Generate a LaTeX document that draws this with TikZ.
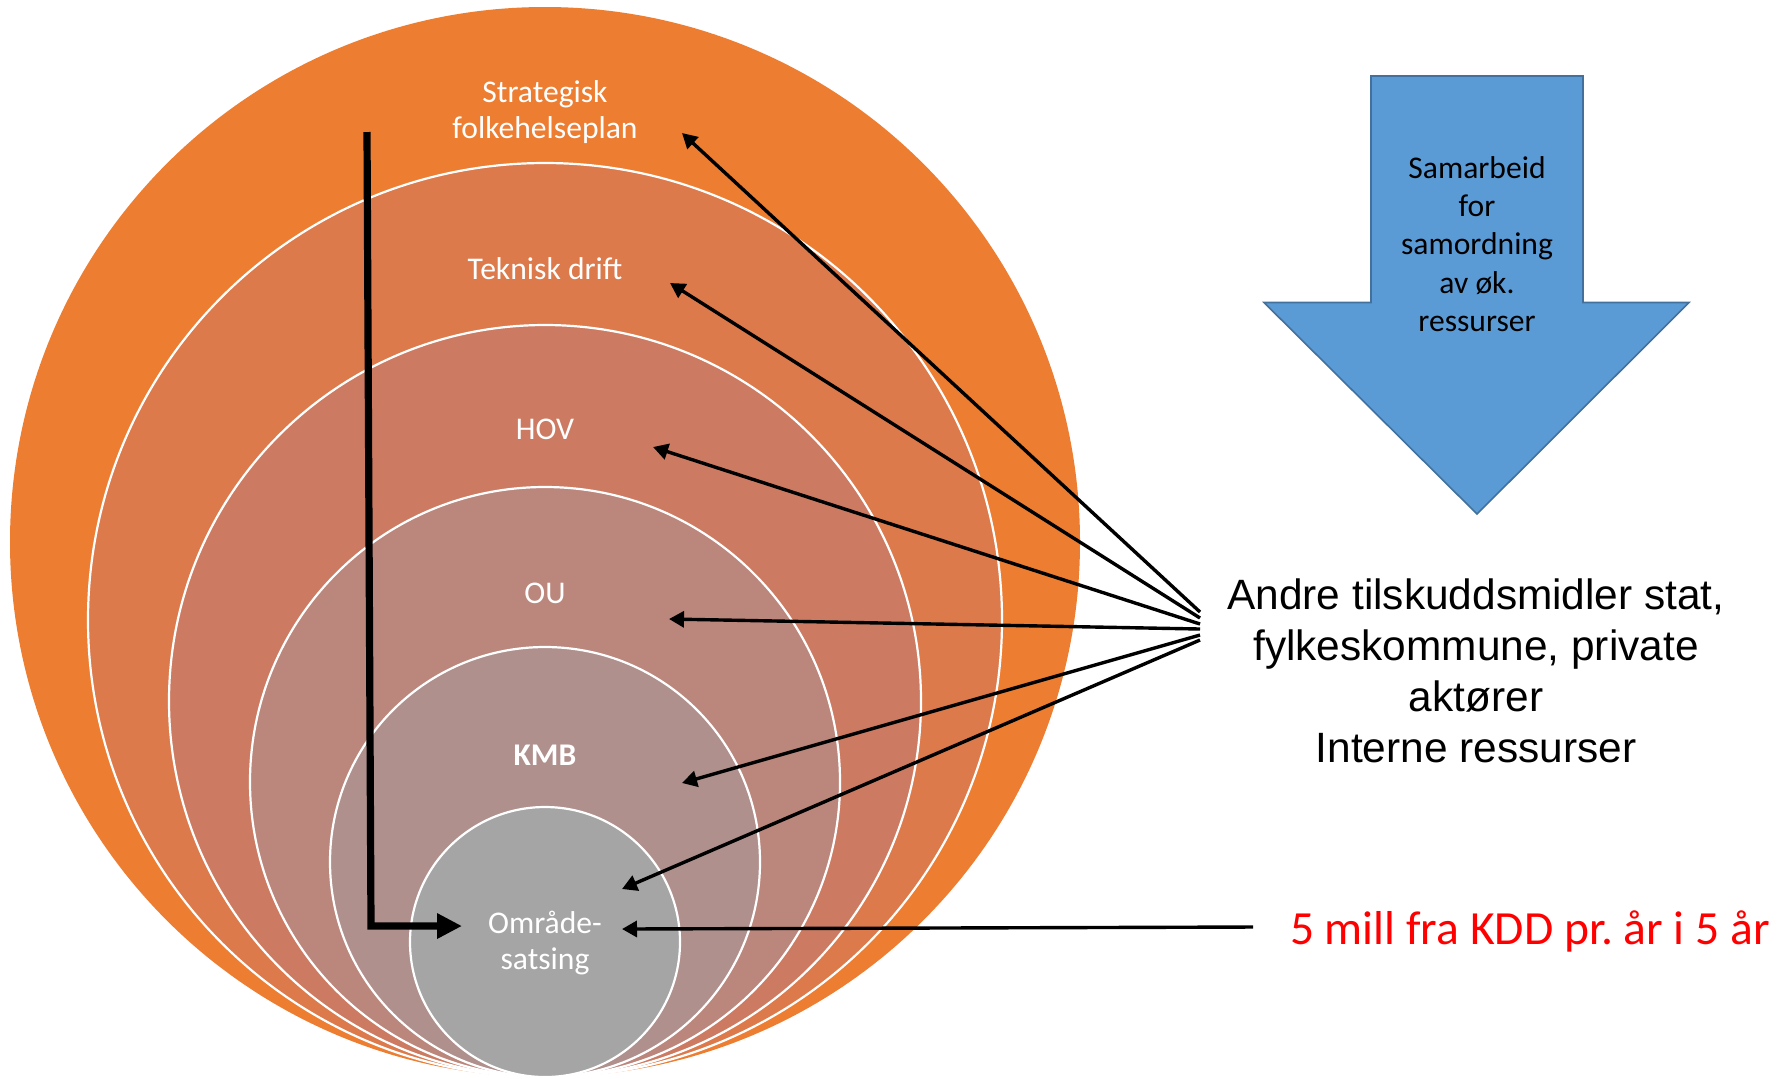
\documentclass[tikz,border=0pt]{standalone}
\usepackage{fontspec}
\setmainfont{Carlito}
\newfontfamily\arialfont{Liberation Sans}
\usetikzlibrary{arrows.meta}
\frenchspacing
\definecolor{c1}{HTML}{ED7D31}
\definecolor{c2}{HTML}{DC7A4C}
\definecolor{c3}{HTML}{CC7B62}
\definecolor{c4}{HTML}{BB867B}
\definecolor{c5}{HTML}{AF908D}
\definecolor{c6}{HTML}{A5A5A5}
\definecolor{bluefill}{HTML}{5B9BD5}
\definecolor{blueline}{HTML}{41719C}
\definecolor{redtxt}{HTML}{FF0000}
\begin{document}
\begin{tikzpicture}[x=0.5pt,y=-0.5pt,
  ring/.style={draw=white, line width=1.1pt},
  lbl/.style={text=white, font=\fontsize{15.8}{18}\selectfont, align=center, inner sep=0pt},
  thinarrow/.style={line width=1.7pt, -{Triangle[length=7.5pt,width=8pt]}},
  thickarrow/.style={line width=3.6pt, -{Triangle[length=12.5pt,width=12pt]}}
]
\useasboundingbox (0,0) rectangle (1791,1078);
% nested circles, tangent at the bottom
\fill[c1] (545,542) circle[radius=267.5pt];
\filldraw[fill=c2, ring] (545,620) circle[radius=228.5pt];
\filldraw[fill=c3, ring] (545,701) circle[radius=188pt];
\filldraw[fill=c4, ring] (545,782) circle[radius=147.5pt];
\filldraw[fill=c5, ring] (545,862) circle[radius=107.5pt];
\filldraw[fill=c6, ring] (545,942) circle[radius=67.5pt];

% labels
\node[lbl] (strat) at (545,112) {Strategisk\\folkehelseplan};
\node[lbl] (tek) at (545,269) {Teknisk drift};
\node[lbl] (hov) at (545,429) {HOV};
\node[lbl] (ou) at (545,593) {OU};
\node[lbl, font=\bfseries\fontsize{15.8}{18}\selectfont] (kmb) at (545,755) {KMB};
\node[lbl] (omr) at (545,943) {Område-\\satsing};

% blue arrow
\draw[fill=bluefill, draw=blueline, line width=0.8pt]
  (1371,76) -- (1583,76) -- (1583,302.5) -- (1689,302.5) -- (1477,514)
  -- (1264,302.5) -- (1371,302.5) -- cycle;
\node[align=center, inner sep=0pt, font=\fontsize{15.8}{19.2}\selectfont] (samarbeid) at (1477,244)
  {Samarbeid\\for\\samordning\\av øk.\\ressurser};

% right texts
\node[align=center, inner sep=0pt, font=\arialfont\fontsize{21.2}{25.5}\selectfont] (andre) at (1476,671)
  {Andre tilskuddsmidler stat,\\fylkeskommune, private\\aktører\\Interne ressurser};
\node[inner sep=0pt, text=redtxt, font=\fontsize{23.8}{28}\selectfont] (kdd) at (1530,931)
  {5 mill fra KDD pr. år i 5 år};

% arrow coordinates
\coordinate (s1) at (1200,612);
\coordinate (s2) at (1200,618);
\coordinate (s3) at (1200,624);
\coordinate (s4) at (1200,629);
\coordinate (s5) at (1200,635);
\coordinate (s6) at (1200,640);
\coordinate (t1) at (682,133);
\coordinate (t2) at (670,283);
\coordinate (t3) at (653,447);
\coordinate (t4) at (669,619);
\coordinate (t5) at (682,783);
\coordinate (t6) at (622,889);
\coordinate (r7) at (1253,927);
\coordinate (t7) at (622,929);
\coordinate (k0) at (367,132);
\coordinate (k1) at (371,926);
\coordinate (k2) at (462,926);

\draw[thinarrow] (s1) -- (t1);
\draw[thinarrow] (s2) -- (t2);
\draw[thinarrow] (s3) -- (t3);
\draw[thinarrow] (s4) -- (t4);
\draw[thinarrow] (s5) -- (t5);
\draw[thinarrow] (s6) -- (t6);
\draw[thinarrow] (r7) -- (t7);
\draw[thickarrow] (k0) -- (k1) -- (k2);
\end{tikzpicture}
\end{document}
